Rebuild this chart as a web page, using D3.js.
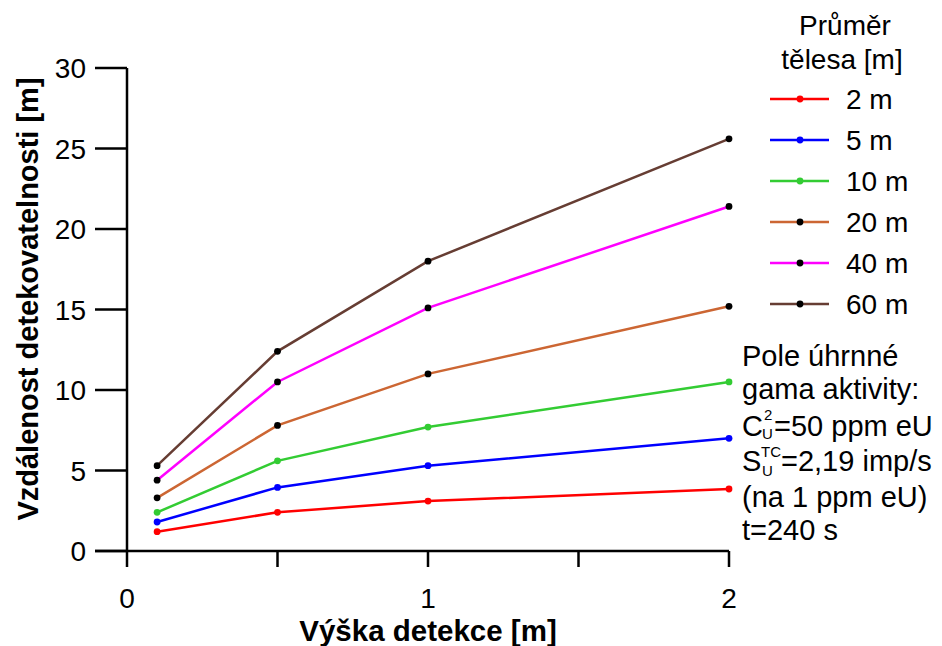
<!DOCTYPE html>
<html>
<head>
<meta charset="utf-8">
<script src="https://cdn.jsdelivr.net/npm/d3@7"></script>
<style>
  html, body { margin: 0; padding: 0; background: #fff; }
  svg { display: block; font-family: "Liberation Sans", Arial, sans-serif; }
</style>
</head>
<body>
<svg id="chart" width="942" height="646"></svg>
<script>
// Detection height [m]
const heights = [0.1, 0.5, 1, 2];
// Body diameter series [m]
const diameters = ["2 m", "5 m", "10 m", "20 m", "40 m", "60 m"];
// Detection distance [m] for each diameter
const dist2  = [1.2, 2.4, 3.1, 3.85];
const dist5  = [1.8, 3.95, 5.3, 7.0];
const dist10 = [2.4, 5.6, 7.7, 10.5];
const dist20 = [3.3, 7.8, 11.0, 15.2];
const dist40 = [4.4, 10.5, 15.1, 21.4];
const dist60 = [5.3, 12.4, 18.0, 25.6];
const yTicks = [0, 5, 10, 15, 20, 25, 30];
const xTicks = [0, 0.5, 1, 1.5, 2];
const xLabels = [0, 1, 2];

const lineColors = ["#ff0000", "#0000ff", "#33cc33", "#cc6633", "#ff00ff", "#663d33"];
const dotColors  = ["#ff0000", "#0000ff", "#33cc33", "#000000", "#000000", "#000000"];

const series = [dist2, dist5, dist10, dist20, dist40, dist60].map((v, i) => ({
  name: diameters[i], values: v, line: lineColors[i], dot: dotColors[i]
}));

const svg = d3.select("#chart");
const x = d3.scaleLinear().domain([0, 2]).range([127, 729]);
const y = d3.scaleLinear().domain([0, 30]).range([551, 68]);

// Axes
const axisG = svg.append("g").attr("stroke", "#000").attr("stroke-width", 2.5).attr("fill", "none");
axisG.append("line").attr("x1", x(0)).attr("x2", x(0)).attr("y1", y(30)).attr("y2", y(0));
axisG.append("line").attr("x1", x(0) - 32).attr("x2", x(2)).attr("y1", y(0)).attr("y2", y(0));
axisG.selectAll(".yt").data(yTicks).join("line")
  .attr("x1", x(0) - 32).attr("x2", x(0)).attr("y1", d => y(d)).attr("y2", d => y(d));
axisG.selectAll(".xt").data(xTicks).join("line")
  .attr("x1", d => x(d)).attr("x2", d => x(d)).attr("y1", y(0)).attr("y2", y(0) + 16);

svg.selectAll(".ytl").data(yTicks).join("text")
  .attr("x", x(0) - 41).attr("y", d => y(d) + 10)
  .attr("text-anchor", "end").attr("font-size", 28).text(d => d);
svg.selectAll(".xtl").data(xLabels).join("text")
  .attr("x", d => x(d)).attr("y", 608)
  .attr("text-anchor", "middle").attr("font-size", 28).text(d => d);

// Axis titles
svg.append("text").attr("x", x(1)).attr("y", 641)
  .attr("text-anchor", "middle").attr("font-size", 29.5).attr("font-weight", "bold")
  .text("Výška detekce [m]");
svg.append("text").attr("transform", "translate(38,299) rotate(-90)")
  .attr("text-anchor", "middle").attr("font-size", 29).attr("font-weight", "bold")
  .text("Vzdálenost detekovatelnosti [m]");

// Series lines and markers
const line = d3.line().x((d, i) => x(heights[i])).y(d => y(d));
const sg = svg.selectAll(".series").data(series).join("g");
sg.append("path").attr("d", d => line(d.values))
  .attr("fill", "none").attr("stroke", d => d.line).attr("stroke-width", 2.5);
sg.each(function(s) {
  d3.select(this).selectAll("circle").data(s.values).join("circle")
    .attr("cx", (d, i) => x(heights[i])).attr("cy", d => y(d))
    .attr("r", 3.4).attr("fill", s.dot);
});

// Legend
const lg = svg.append("g");
lg.append("text").attr("x", 845).attr("y", 35).attr("text-anchor", "middle")
  .attr("font-size", 28).text("Průměr");
lg.append("text").attr("x", 842).attr("y", 69).attr("text-anchor", "middle")
  .attr("font-size", 28).text("tělesa [m]");
const rows = lg.selectAll(".row").data(series).join("g")
  .attr("transform", (d, i) => `translate(0,${99 + i * 41})`);
rows.append("line").attr("x1", 770).attr("x2", 829).attr("y1", 0).attr("y2", 0)
  .attr("stroke", d => d.line).attr("stroke-width", 2.5);
rows.append("circle").attr("cx", 800).attr("cy", 0).attr("r", 3.4).attr("fill", d => d.dot);
rows.append("text").attr("x", 846).attr("y", 10).attr("font-size", 28).text(d => d.name);

// Measurement conditions note
const note = svg.append("g").attr("font-size", 29);
note.append("text").attr("x", 742).attr("y", 366).text("Pole úhrnné");
note.append("text").attr("x", 742).attr("y", 399).text("gama aktivity:");
note.append("text").attr("x", 742).attr("y", 436).text("C");
note.append("text").attr("x", 764).attr("y", 420).attr("font-size", 15).text("2");
note.append("text").attr("x", 762).attr("y", 439).attr("font-size", 15).text("U");
note.append("text").attr("x", 774).attr("y", 436).text("=50 ppm eU");
note.append("text").attr("x", 742).attr("y", 471).text("S");
note.append("text").attr("x", 761).attr("y", 457).attr("font-size", 15).text("TC");
note.append("text").attr("x", 762).attr("y", 476).attr("font-size", 15).text("U");
note.append("text").attr("x", 781).attr("y", 471).text("=2,19 imp/s");
note.append("text").attr("x", 742).attr("y", 507).text("(na 1 ppm eU)");
note.append("text").attr("x", 742).attr("y", 540).text("t=240 s");
</script>
</body>
</html>
